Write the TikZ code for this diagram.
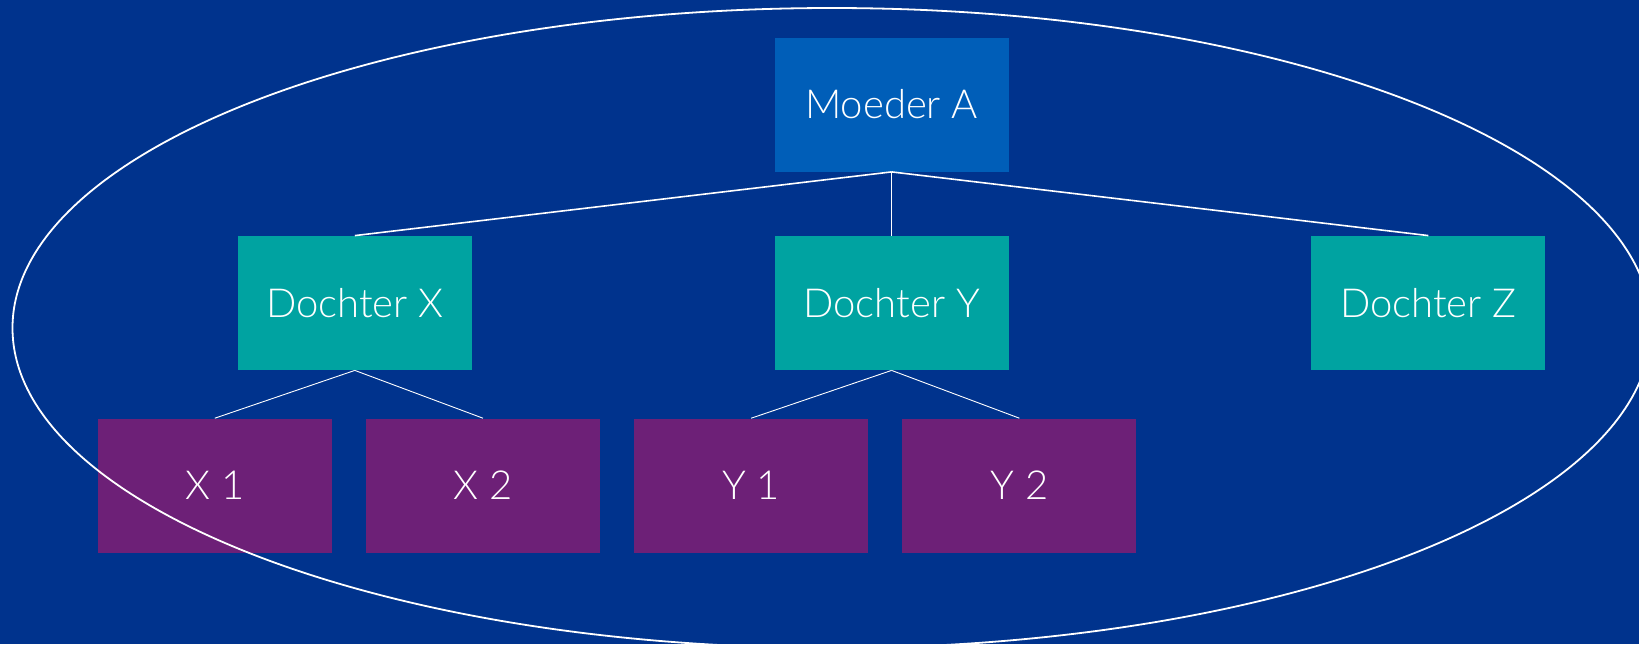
\documentclass[tikz,border=0pt]{standalone}
\usepackage{fontspec}
\setmainfont{Lato Light}
\usepackage{tikz}
\usetikzlibrary{
        positioning
    }
\definecolor{kdark}{HTML}{00338D}
\definecolor{kblue}{HTML}{005EB8}
\definecolor{kteal}{HTML}{00A3A1}
\definecolor{kpurple}{HTML}{6D2077}
\tikzset{node distance=2cm}
\tikzset{unit/.style={rectangle,minimum width=117pt,minimum height=67pt,inner sep=0pt,text=white,font=\fontsize{20}{24}\selectfont}}

\begin{document}
\begin{tikzpicture}[node distance=99.25pt]
        \tikzset{mother/.style={unit,fill=kblue},daughter/.style={unit,fill=kteal},grandchild/.style={unit,fill=kpurple}}
        \clip (0,0) rectangle (819.5pt,-322pt);
        \fill[kdark] (0,0) rectangle (819.5pt,-322pt);
        \node[mother] (ma) at (445.8pt,-52.25pt) {Moeder A};
        \node[daughter] (dy) [below of=ma] {Dochter Y};
        \node[daughter] (dx) [node distance=268.4pt,left of=dy] {Dochter X};
        \node[daughter] (dz) [node distance=268.4pt,right of=dy] {Dochter Z};
        \node[grandchild] (x1) [node distance=91.3pt,below of=dx,xshift=-70pt] {X 1};
        \node[grandchild] (x2) [node distance=134.1pt,right of=x1] {X 2};
        \node[grandchild] (y1) [node distance=134.1pt,right of=x2] {Y 1};
        \node[grandchild] (y2) [node distance=134.1pt,right of=y1] {Y 2};
        \path[draw=white,line width=0.8pt]
            (ma.south)  edge  (dx.north)
            (ma.south)  edge  (dy.north)
            (ma.south)  edge  (dz.north)
        ;
        \path[draw=white,line width=0.45pt]
            (dx.south)  edge  (x1.north)
            (dx.south)  edge  (x2.north)
            (dy.south)  edge  (y1.north)
            (dy.south)  edge  (y2.north)
        ;
        \draw[white,line width=0.9pt] (415.95pt,-164pt) ellipse (409.7pt and 160pt);
    \end{tikzpicture}
\end{document}
